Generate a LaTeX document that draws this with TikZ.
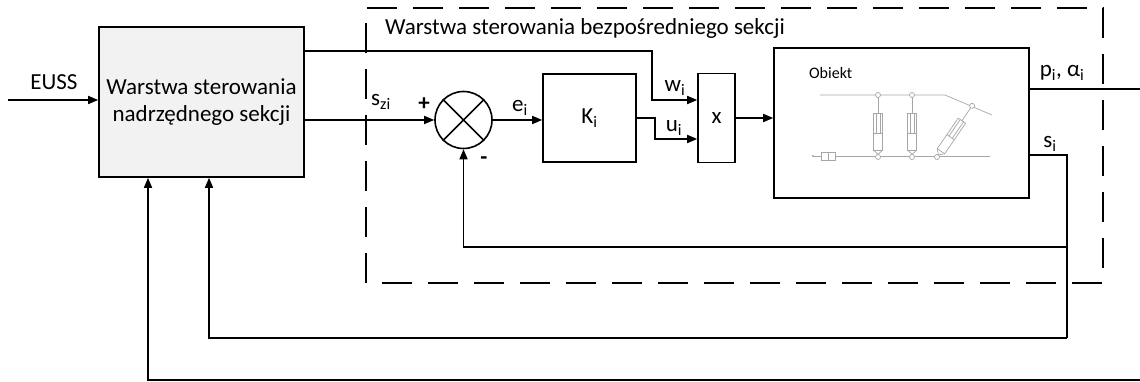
\documentclass[tikz,border=0pt]{standalone}
\usepackage{fontspec}
\setmainfont{Carlito}
\usetikzlibrary{positioning,arrows.meta}

\begin{document}
\begin{tikzpicture}[x=1pt,y=-1pt,on grid,auto,node distance=100pt,
   >={Triangle[length=10pt,width=8pt]},line width=1.6pt,
   every node/.style={font=\fontsize{23}{27}\selectfont},
   block/.style={draw,rectangle,inner sep=0pt},
   sumnode/.style={draw,circle,minimum size=57pt,inner sep=0pt},
   part/.style={draw=gray!70,line width=0.7pt}]
   \useasboundingbox (0,0) rectangle (1140,382);

   \node[block,fill=gray!10,minimum width=205pt,minimum height=150pt,align=center] (ctrl) at (201.5,102)
        {Warstwa sterowania\\nadrzędnego sekcji};
   \node[sumnode] (sum) at (463.5,120) {};
   \node[block,minimum width=93pt,minimum height=88pt] (Ki) [right=126pt of sum,yshift=2pt] {K\textsubscript{i}};
   \node[block,minimum width=37pt,minimum height=89pt] (xbox) [right=127pt of Ki] {x};
   \node[block,minimum width=255pt,minimum height=150pt] (obj) [right=185pt of xbox,yshift=-5pt] {};
   \coordinate (euss) at (8,100);
   \coordinate (pout) at (1140,89);
   \coordinate (sback) at (1140,380);

   \node (eusslbl) at (54,82) {EUSS};
   \node (szi) at (381,102) {s\textsubscript{zi}};
   \node (plus) at (424,104) {\textbf{+}};
   \node (minus) at (484,161) {\textbf{-}};
   \node (ei) at (520,108) {e\textsubscript{i}};
   \node (wi) at (675,88) {w\textsubscript{i}};
   \node (ui) at (674,128) {u\textsubscript{i}};
   \node (pi) at (1062,73) {p\textsubscript{i}, α\textsubscript{i}};
   \node (si) at (1050,144) {s\textsubscript{i}};
   \node[anchor=west,font=\fontsize{16}{19}\selectfont] (objlbl) at (805,73) {Obiekt};
   \node[anchor=base west] (title) at (381,35) {Warstwa sterowania bezpośredniego sekcji};

   % summing junction cross
   \draw (sum.north west) -- (sum.south east);
   \draw (sum.north east) -- (sum.south west);

   \draw[->] (euss) -- (euss -| ctrl.west);
   \draw[->] (ctrl.east |- 0,120) -- (sum.west);
   \draw[->] (sum.east) -- (sum.east -| Ki.west);
   \draw[->] (ctrl.east |- 0,51) -- (652,51) -- (652,100) -- (xbox.west |- 0,100);
   \draw[->] (Ki.east) -- (655,118) -- (655,139) -- (xbox.west |- 0,139);
   \draw[->] (xbox.east) -- (xbox.east -| obj.west);
   \draw (obj.east |- pout) -- (pout);
   \draw (obj.east |- 0,155) -- (1067,155) -- (1067,338);
   \draw[->] (1067,247) -- (sum.south |- 0,247) -- (sum.south);
   \draw[->] (1067,338) -- (209,338) -- (ctrl.south -| 209,0);
   \draw[->] (sback) -- (148,380) -- (ctrl.south -| 148,0);

   % frame of the section layer
   \draw[dash pattern=on 30pt off 16pt] (366,283) -- (366,8) -- (1103,8) -- (1103,283) -- cycle;

   % sketch of the object
   \draw[part] (820,95) -- (945,95) -- (992,115);
   \draw[part] (835,156) -- (990,156);
   \draw[part] (813,156) -- (821,156);
   \draw[part] (821,152) rectangle (835,160);
   \draw[part] (828,152) -- (828,160);
   \fill[gray!70] (813,156) circle (1.2);
   \foreach \px/\ax/\ay in {878/0/1,912/0/1,937/0.566/0.825}
   {
     \begin{scope}[shift={(\px,157)},x={(\ax pt,\ay pt)},y={(\ay pt,-\ax pt)}]
       \draw[part,fill=white] (0,0) circle (2.5);
       \draw[part,fill=white] (62,0) circle (2.5);
       \draw[part] (7,-4.5) -- (2.5,0) -- (7,4.5);
       \draw[part] (7,-4.5) -- (44,-4.5) -- (44,4.5) -- (7,4.5) -- cycle;
       \draw[part] (24,-4.5) -- (24,4.5);
       \draw[part] (24,-2) -- (44,-2) (24,2) -- (44,2);
       \draw[part] (44,0) -- (59.5,0);
     \end{scope}
   }
\end{tikzpicture}
\end{document}
